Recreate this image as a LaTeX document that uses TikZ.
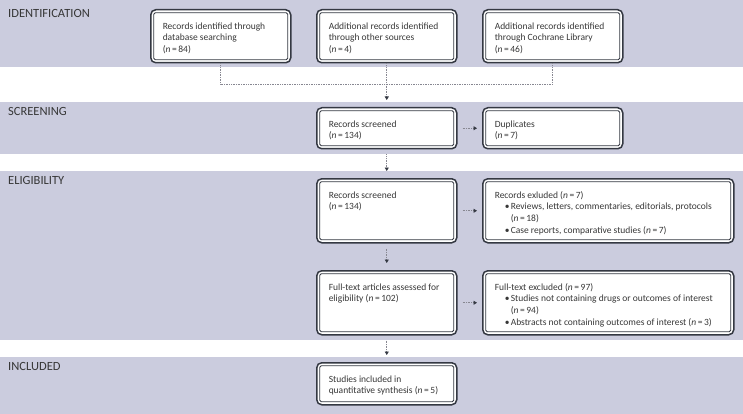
\documentclass[tikz,border=0pt]{standalone}
\usepackage{fontspec}
\setmainfont{Carlito}
\usetikzlibrary{arrows.meta,calc}
\definecolor{bandfill}{RGB}{203,204,222}
\definecolor{boxline}{RGB}{52,56,66}
\definecolor{linkgray}{RGB}{135,135,145}
\definecolor{textgray}{RGB}{55,55,55}
\newcommand{\ptext}[3]{\parbox[t][#1pt][t]{#2pt}{\raggedright\strut#3}}
\newcommand{\bitem}[1]{\par\hangindent=16pt\hangafter=1\hspace*{10pt}\makebox[6pt][l]{\textbullet}#1}
\newcommand{\nn}[1]{(\textit{n}\,=\,#1)}
\begin{document}
\begin{tikzpicture}[x=1pt,y=-1pt]
    \tikzset{
    band/.style={fill=bandfill, draw=none},
    phase/.style={anchor=west, text=textgray, font=\fontsize{12.5}{14}\selectfont, inner sep=0},
    stage/.style={draw=boxline, line width=1.5, rounded corners=5, fill=white, anchor=north west,
      inner xsep=12, inner ysep=11.5, text=textgray, font=\fontsize{9.5}{11.6}\selectfont,
      path picture={\draw[boxline, line width=0.8, rounded corners=1.5]
        ($(path picture bounding box.north west)+(3,3)$) rectangle ($(path picture bounding box.south east)+(-3,-3)$);}},
    link/.style={draw=linkgray, densely dotted, line width=0.7},
    flow/.style={link, -{Triangle[width=4,length=3.5,color=boxline]}, shorten <=5, shorten >=7},
    hflow/.style={flow, shorten >=5},
    }
    \useasboundingbox (0,0) rectangle (743,414);
    \fill[white] (0,0) rectangle (743,414);
    \path[band] (0,0) rectangle (743,67);
    \path[band] (0,102) rectangle (743,154);
    \path[band] (0,171) rectangle (743,340);
    \path[band] (0,357) rectangle (743,414);

    \node[phase] (lblI) at (8,13) {IDENTIFICATION};
    \node[phase] (lblS) at (8,111) {SCREENING};
    \node[phase] (lblE) at (8,180) {ELIGIBILITY};
    \node[phase] (lblN) at (8,366) {INCLUDED};

    \node[stage] (idA) at (150,9) {\ptext{30}{116}{Records identified through\\database searching\\\nn{84}}};
    \node[stage] (idB) at (316,9) {\ptext{30}{116}{Additional records identified\\through other sources\\\nn{4}}};
    \node[stage] (idC) at (482,9) {\ptext{30}{116}{Additional records identified\\through Cochrane Library\\\nn{46}}};
    \node[stage] (scr) at (316,107) {\ptext{18}{116}{Records screened\\\nn{134}}};
    \node[stage] (dup) at (482,107) {\ptext{18}{116}{Duplicates\\\nn{7}}};
    \node[stage] (elig) at (316,178) {\ptext{41}{116}{Records screened\\\nn{134}}};
    \node[stage] (exc1) at (482,178) {\ptext{41}{227}{Records exluded \nn{7}
      \bitem{Reviews, letters, commentaries, editorials, protocols\newline\nn{18}}
      \bitem{Case reports, comparative studies \nn{7}}}};
    \node[stage] (full) at (316,270) {\ptext{41}{116}{Full-text articles assessed for\\eligibility \nn{102}}};
    \node[stage] (exc2) at (482,270) {\ptext{41}{227}{Full-text excluded \nn{97}
      \bitem{Studies not containing drugs or outcomes of interest\newline\nn{94}}
      \bitem{Abstracts not containing outcomes of interest \nn{3}}}};
    \node[stage] (incl) at (316,362) {\ptext{19}{116}{Studies included in\\quantitative synthesis \nn{5}}};

    \coordinate (split) at (387,84);
    \draw[link] (idA.south) -- (idA.south |- split) -- (idC.south |- split) -- (idC.south);
    \draw[flow, shorten <=0] (idB.south) -- (scr.north);
    \draw[hflow] (scr.east) -- (dup.west);
    \draw[flow] (scr.south) -- (elig.north);
    \draw[hflow] (elig.east) -- (exc1.west);
    \draw[flow] (elig.south) -- (full.north);
    \draw[hflow] (full.east) -- (exc2.west);
    \draw[flow] (full.south) -- (incl.north);
\end{tikzpicture}
\end{document}
